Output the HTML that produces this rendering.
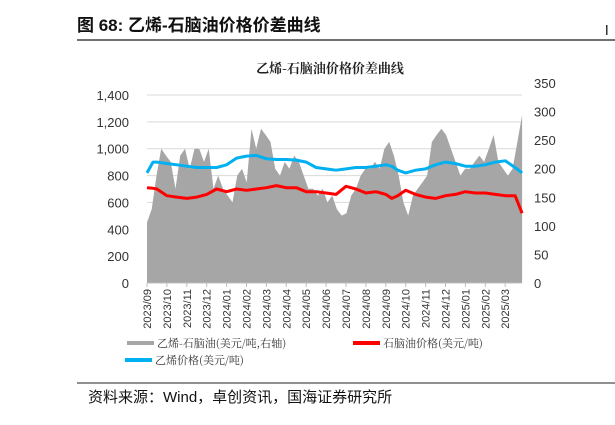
<!DOCTYPE html>
<html><head><meta charset="utf-8"><style>
body{margin:0;width:615px;height:420px;background:#fff;overflow:hidden;font-family:"Liberation Sans","Noto Sans CJK SC",sans-serif;}
</style></head><body>
<svg id="c" width="615" height="420" xmlns="http://www.w3.org/2000/svg">
<text x="77" y="31" font-size="17" font-weight="bold" fill="#111" font-family="Liberation Sans, Noto Sans CJK SC, sans-serif">图 68:  乙烯-石脑油价格价差曲线</text>
<line x1="77" y1="40" x2="615" y2="40" stroke="#444" stroke-width="1.5"/>
<rect x="606" y="25" width="1.5" height="10" fill="#333"/>
<text x="330" y="73" text-anchor="middle" font-size="13" font-weight="bold" fill="#222" font-family="Noto Serif CJK SC, serif">乙烯-石脑油价格价差曲线</text>
<g id="plot"></g>
<line x1="77" y1="383" x2="615" y2="383" stroke="#222" stroke-width="1"/>
<text x="88" y="402" font-size="15" fill="#111" font-family="Liberation Sans, Noto Sans CJK SC, sans-serif">资料来源：Wind，卓创资讯，国海证券研究所</text>
</svg>
<script>
const monthLabels=["2023/09","2023/10","2023/11","2023/12","2024/01","2024/02","2024/03","2024/04","2024/05","2024/06","2024/07","2024/08","2024/09","2024/10","2024/11","2024/12","2025/01","2025/02","2025/03"];
const leftTicks=[0,200,400,600,800,1000,1200,1400];
const rightTicks=[0,50,100,150,200,250,300,350];
// spread (right axis), ~4 points per month
const spreadVals=[106,129,188,235,223,212,165,223,235,200,235,235,212,235,165,188,165,153,141,188,200,176,270,235,270,259,247,200,188,212,200,223,212,188,165,165,153,165,141,153,129,118,122,153,165,188,200,200,212,200,235,247,223,188,141,118,153,165,176,188,247,259,270,259,235,212,188,200,200,212,223,212,235,259,212,200,188,200,247,294];
const spreadEndMonth=18.85;
// price points (left axis), month positions
const priceMonths=[0,0.3,0.5,1,1.5,2,2.5,3,3.5,4,4.5,5,5.5,6,6.5,7,7.5,8,8.5,9,9.5,10,10.5,11,11.5,12,12.3,12.6,13,13.5,14,14.5,15,15.5,16,16.5,17,17.5,18,18.5,18.85];
const ethylene=[820,900,900,890,880,870,860,860,860,880,930,945,950,925,920,920,915,900,860,850,840,850,860,860,870,880,870,840,820,840,850,880,900,890,870,870,880,900,910,860,820];
const naphtha=[710,705,700,650,640,630,640,660,700,680,700,690,700,710,725,710,710,680,680,670,660,720,700,670,680,660,630,650,690,660,640,630,650,660,680,670,670,660,650,650,520];
const X0=147,X1=522,MPX=19.9,Y0=283,LH=188,RH=200;
const xm=m=>X0+m*MPX, yl=v=>Y0-v/1400*LH, yr=v=>Y0-v/350*RH;
const step=spreadEndMonth/(spreadVals.length-1);
const ns="http://www.w3.org/2000/svg",g=document.getElementById('plot');
function mk(t,a){const e=document.createElementNS(ns,t);for(const k in a)e.setAttribute(k,a[k]);g.appendChild(e);return e;}
leftTicks.forEach(v=>{
 if(v>0){const l=mk('line',{x1:X0,x2:X1,y1:yl(v),y2:yl(v),stroke:'#d9d9d9','stroke-width':1});
 
 }
 const t=mk('text',{x:X0-18,y:yl(v)+5,'text-anchor':'end','font-size':13,fill:'#333'});t.textContent=v.toLocaleString('en-US');
 
 
});
rightTicks.forEach(v=>{
 const t=mk('text',{x:534,y:yr(v)+5,'font-size':13,fill:'#333'});t.textContent=v;
 
 
});
let d='M'+xm(0)+','+Y0;
spreadVals.forEach((v,i)=>{d+=' L'+xm(i*step).toFixed(1)+','+yr(v).toFixed(1);});
d+=' L'+xm(spreadEndMonth).toFixed(1)+','+Y0+' Z';
const a=mk('path',{d:d,fill:'#a6a6a6'});


const ax=mk('line',{x1:X0,x2:X1,y1:Y0,y2:Y0,stroke:'#bfbfbf','stroke-width':1});


function line(vals,col,name){
 const p=mk('polyline',{points:vals.map((v,i)=>xm(priceMonths[i]).toFixed(1)+','+yl(v).toFixed(1)).join(' '),fill:'none',stroke:col,'stroke-width':3,'stroke-linejoin':'round'});
 
 
}
line(naphtha,'#ff0000','naphtha-line');
line(ethylene,'#00b0f0','ethylene-line');
monthLabels.forEach((m,i)=>{
 const x=xm(i);
 const tk=mk('line',{x1:x,x2:x,y1:Y0,y2:Y0+4,stroke:'#bfbfbf'});
 
 
 const t=mk('text',{x:0,y:0,'font-size':11,fill:'#333','text-anchor':'end',transform:'translate('+(x+4)+','+(Y0+6)+') rotate(-90)'});t.textContent=m;
 
 
});
const leg=[[127,343,'#a6a6a6','乙烯-石脑油(美元/吨,右轴)','legend-spread'],[353,343,'#ff0000','石脑油价格(美元/吨)','legend-naphtha'],[125,360,'#00b0f0','乙烯价格(美元/吨)','legend-ethylene']];
leg.forEach(L=>{
 const r=mk('rect',{x:L[0],y:L[1]-2,width:27,height:4,fill:L[2]});
 
 
 const t=mk('text',{x:L[0]+30,y:L[1]+4,'font-size':11,fill:'#333','font-family':'Noto Serif CJK SC, serif'});t.textContent=L[3];
 
 
});
</script>
</body></html>
